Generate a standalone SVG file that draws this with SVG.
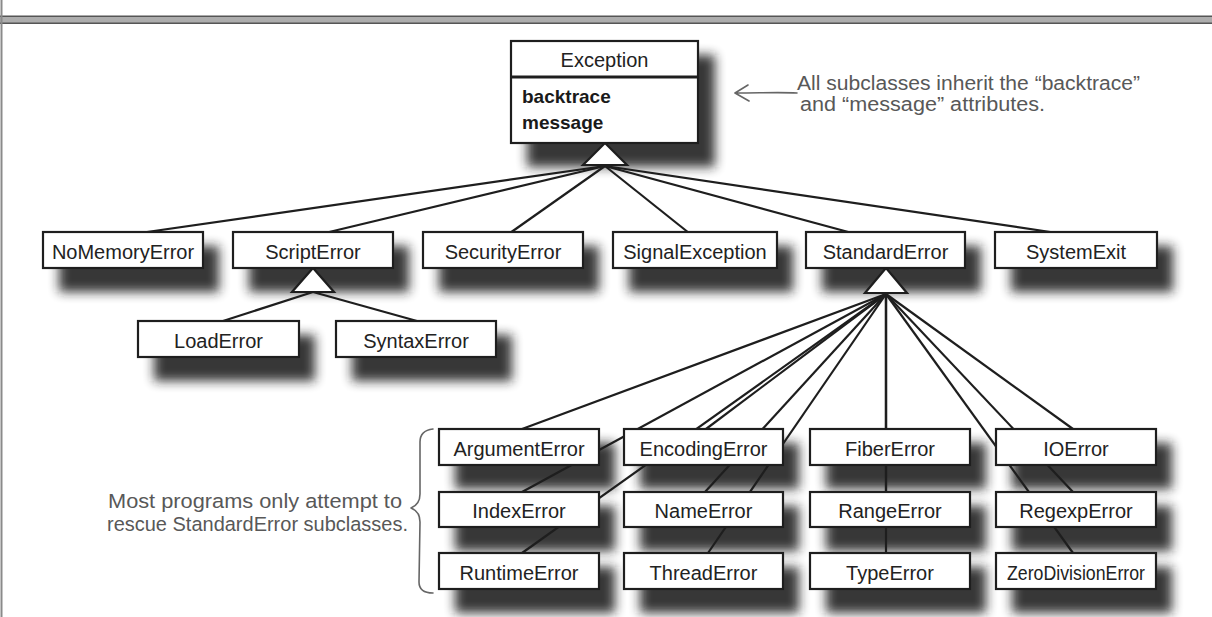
<svg xmlns="http://www.w3.org/2000/svg" width="1212" height="617" viewBox="0 0 1212 617">
<defs>
<filter id="blur" x="-30%" y="-60%" width="160%" height="220%"><feGaussianBlur stdDeviation="5.5"/></filter>
<style>
.box{fill:#fff;stroke:#1e1e1e;stroke-width:2.2}
.sh{fill:#1c1c1c;opacity:0.88;filter:url(#blur)}
.t{font-family:"Liberation Sans",Arial,sans-serif;font-size:20px;fill:#222;text-anchor:middle}
.b{font-family:"Liberation Sans",Arial,sans-serif;font-size:19px;font-weight:bold;fill:#1a1a1a}
.c line{stroke:#1e1e1e;stroke-width:2.2}
.tri{fill:#fff;stroke:#1e1e1e;stroke-width:2.2;stroke-linejoin:miter}
.hand{font-family:"Liberation Sans",Arial,sans-serif;fill:#585858}
.note{fill:none;stroke:#666;stroke-width:1.6;stroke-linecap:round;stroke-linejoin:round}
</style>
</defs>
<rect width="1212" height="617" fill="#fff"/>
<!-- page frame -->
<rect x="0" y="16" width="1212" height="7.5" fill="#adadad"/>
<line x1="0" y1="16.2" x2="1212" y2="16.2" stroke="#555" stroke-width="1.4"/>
<line x1="0" y1="23.3" x2="1212" y2="23.3" stroke="#555" stroke-width="1.4"/>
<line x1="1.5" y1="0" x2="1.5" y2="617" stroke="#8a8a8a" stroke-width="2"/>

<!-- shadows -->
<g id="shadows">
<rect class="sh" x="527" y="55" width="188" height="112"/>
<rect class="sh" x="59" y="246" width="160" height="46"/>
<rect class="sh" x="249" y="246" width="160" height="46"/>
<rect class="sh" x="439" y="246" width="160" height="46"/>
<rect class="sh" x="629" y="246" width="164" height="46"/>
<rect class="sh" x="822" y="246" width="159" height="46"/>
<rect class="sh" x="1011" y="246" width="162" height="46"/>
<rect class="sh" x="154" y="335" width="161" height="46"/>
<rect class="sh" x="352" y="335" width="160" height="46"/>
<rect class="sh" x="455" y="443" width="160" height="46"/>
<rect class="sh" x="640" y="443" width="159" height="46"/>
<rect class="sh" x="826" y="443" width="160" height="46"/>
<rect class="sh" x="1012" y="443" width="160" height="46"/>
<rect class="sh" x="455" y="506" width="160" height="45"/>
<rect class="sh" x="640" y="506" width="159" height="45"/>
<rect class="sh" x="826" y="506" width="160" height="45"/>
<rect class="sh" x="1012" y="506" width="160" height="45"/>
<rect class="sh" x="455" y="567" width="160" height="46"/>
<rect class="sh" x="640" y="567" width="159" height="46"/>
<rect class="sh" x="826" y="567" width="160" height="46"/>
<rect class="sh" x="1012" y="567" width="160" height="46"/>
</g>

<!-- connectors -->
<g id="connectors" class="c">
<line x1="605" y1="166" x2="140" y2="233"/>
<line x1="605" y1="166" x2="325" y2="233"/>
<line x1="605" y1="166" x2="510" y2="233"/>
<line x1="605" y1="166" x2="689" y2="233"/>
<line x1="605" y1="166" x2="852" y2="233"/>
<line x1="605" y1="166" x2="1057" y2="233"/>
<line x1="313" y1="292" x2="223" y2="321"/>
<line x1="313" y1="292" x2="417" y2="321"/>
<line x1="886" y1="294" x2="522" y2="429"/>
<line x1="886" y1="294" x2="522" y2="492"/>
<line x1="886" y1="294" x2="522" y2="553"/>
<line x1="886" y1="294" x2="706" y2="429"/>
<line x1="886" y1="294" x2="705" y2="492"/>
<line x1="886" y1="294" x2="708" y2="553"/>
<line x1="886" y1="294" x2="886" y2="429"/>
<line x1="886" y1="294" x2="886" y2="492"/>
<line x1="886" y1="294" x2="886" y2="553"/>
<line x1="886" y1="294" x2="1073" y2="429"/>
<line x1="886" y1="294" x2="1073" y2="492"/>
<line x1="886" y1="294" x2="1073" y2="553"/>
<polygon class="tri" points="605,143 583,165 627,165"/>
<polygon class="tri" points="313,268 292,292 334,292"/>
<polygon class="tri" points="886,268 865,293 907,293"/>
</g>

<!-- nodes -->
<g id="Exception">
<rect class="box" x="511" y="41" width="187" height="102"/>
<line x1="511" y1="77" x2="698" y2="77" stroke="#1e1e1e" stroke-width="3"/>
<text class="t" x="604.5" y="67">Exception</text>
<text class="b" x="522" y="103">backtrace</text>
<text class="b" x="522" y="129">message</text>
</g>
<g id="NoMemoryError"><rect class="box" x="43" y="232" width="160" height="36"/><text class="t" x="123" y="259">NoMemoryError</text></g>
<g id="ScriptError"><rect class="box" x="233" y="232" width="160" height="36"/><text class="t" x="313" y="259">ScriptError</text></g>
<g id="SecurityError"><rect class="box" x="423" y="232" width="160" height="36"/><text class="t" x="503" y="259">SecurityError</text></g>
<g id="SignalException"><rect class="box" x="613" y="232" width="164" height="36"/><text class="t" x="695" y="259">SignalException</text></g>
<g id="StandardError"><rect class="box" x="806" y="232" width="159" height="36"/><text class="t" x="885.5" y="259">StandardError</text></g>
<g id="SystemExit"><rect class="box" x="995" y="232" width="162" height="36"/><text class="t" x="1076" y="259">SystemExit</text></g>
<g id="LoadError"><rect class="box" x="138" y="321" width="161" height="36"/><text class="t" x="218.5" y="348">LoadError</text></g>
<g id="SyntaxError"><rect class="box" x="336" y="321" width="160" height="36"/><text class="t" x="416" y="348">SyntaxError</text></g>
<g id="ArgumentError"><rect class="box" x="439" y="429" width="160" height="36"/><text class="t" x="519" y="456">ArgumentError</text></g>
<g id="EncodingError"><rect class="box" x="624" y="429" width="159" height="36"/><text class="t" x="703.5" y="456">EncodingError</text></g>
<g id="FiberError"><rect class="box" x="810" y="429" width="160" height="36"/><text class="t" x="890" y="456">FiberError</text></g>
<g id="IOError"><rect class="box" x="996" y="429" width="160" height="36"/><text class="t" x="1076" y="456">IOError</text></g>
<g id="IndexError"><rect class="box" x="439" y="492" width="160" height="35"/><text class="t" x="519" y="518">IndexError</text></g>
<g id="NameError"><rect class="box" x="624" y="492" width="159" height="35"/><text class="t" x="703.5" y="518">NameError</text></g>
<g id="RangeError"><rect class="box" x="810" y="492" width="160" height="35"/><text class="t" x="890" y="518">RangeError</text></g>
<g id="RegexpError"><rect class="box" x="996" y="492" width="160" height="35"/><text class="t" x="1076" y="518">RegexpError</text></g>
<g id="RuntimeError"><rect class="box" x="439" y="553" width="160" height="36"/><text class="t" x="519" y="580">RuntimeError</text></g>
<g id="ThreadError"><rect class="box" x="624" y="553" width="159" height="36"/><text class="t" x="703.5" y="580">ThreadError</text></g>
<g id="TypeError"><rect class="box" x="810" y="553" width="160" height="36"/><text class="t" x="890" y="580">TypeError</text></g>
<g id="ZeroDivisionError"><rect class="box" x="996" y="553" width="160" height="36"/><text class="t" x="1076" y="580" textLength="138" lengthAdjust="spacingAndGlyphs">ZeroDivisionError</text></g>

<!-- annotations -->
<g id="note-attributes">
<path class="note" d="M797,93 C780,92 760,93 736,93 M748,85 L735,93 L749,101"/>
<text class="hand" x="797" y="90" font-size="19.5" textLength="343" lengthAdjust="spacingAndGlyphs">All subclasses inherit the “backtrace”</text>
<text class="hand" x="800" y="111" font-size="19.5" textLength="245" lengthAdjust="spacingAndGlyphs">and “message” attributes.</text>
</g>
<g id="note-rescue">
<path class="note" d="M433,429 C424,430 420,434 420,442 L420,494 C420,502 416,506 411,508 C416,510 420,514 420,522 L419,582 C419,590 424,593 433,593"/>
<text class="hand" x="108" y="508" font-size="20.5" textLength="294" lengthAdjust="spacingAndGlyphs">Most programs only attempt to</text>
<text class="hand" x="107" y="531" font-size="20.5" textLength="301" lengthAdjust="spacingAndGlyphs">rescue StandardError subclasses.</text>
</g>
</svg>
